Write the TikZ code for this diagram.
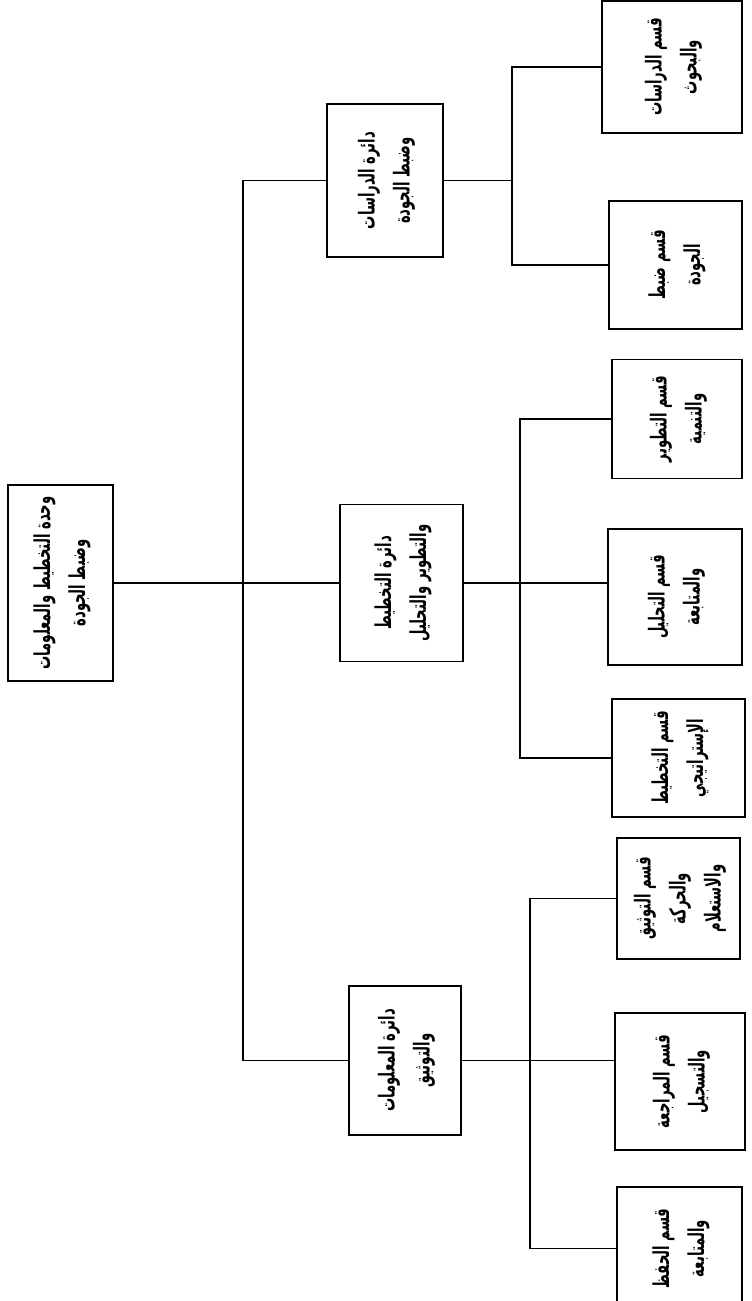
\documentclass[tikz,border=0pt]{standalone}
\usepackage{fontspec}
\usepackage{graphicx}
\TeXXeTstate=1
\newfontfamily\arabicfont[Script=Arabic,FakeStretch=0.6]{DejaVu Sans}
\newcommand{\artxt}[1]{\beginR #1\endR}
\newcommand{\vlabel}[1]{\rotatebox{90}{\arabicfont\bfseries\fontsize{11}{17.5}\selectfont
  \begin{tabular}{@{}c@{}}#1\end{tabular}}}
\tikzset{
  unit/.style={draw, line width=0.8pt, inner sep=0pt, fill=white},
  boxsize/.style 2 args={minimum width=#1*0.5pt, minimum height=#2*0.5pt},
  link/.style={line width=0.8pt},
}

\begin{document}
\begin{tikzpicture}[x=0.5pt,y=-0.5pt]
    \useasboundingbox (0,0) rectangle (751,1301);

    % top unit
    \node[unit, boxsize={105}{196}] (wahda) at (60.5,583)
        {\vlabel{\artxt{وحدة التخطيط والمعلومات}\\ \artxt{وضبط الجودة}}};

    % departments
    \node[unit, boxsize={116}{153}] (daDirasat) at (385,180.5)
        {\vlabel{\artxt{دائرة الدراسات}\\ \artxt{وضبط الجودة}}};
    \node[unit, boxsize={123}{157}] (daTakhtit) at (401.5,583)
        {\vlabel{\artxt{دائرة التخطيط}\\ \artxt{والتطوير والتحليل}}};
    \node[unit, boxsize={112}{149}] (daMaalumat) at (405,1060.5)
        {\vlabel{\artxt{دائرة المعلومات}\\ \artxt{والتوثيق}}};

    % sections
    \node[unit, boxsize={140}{132}] (qBuhuth) at (672,67)
        {\vlabel{\artxt{قسم الدراسات}\\ \artxt{والبحوث}}};
    \node[unit, boxsize={133}{128}] (qJawda) at (675.5,265)
        {\vlabel{\artxt{قسم ضبط}\\ \artxt{الجودة}}};
    \node[unit, boxsize={130}{119}] (qTatwir) at (677,419)
        {\vlabel{\artxt{قسم التطوير}\\ \artxt{والتنمية}}};
    \node[unit, boxsize={134}{136}] (qTahlil) at (675,597)
        {\vlabel{\artxt{قسم التحليل}\\ \artxt{والمتابعة}}};
    \node[unit, boxsize={133}{118}] (qIstratiji) at (678.5,758)
        {\vlabel{\artxt{قسم التخطيط}\\ \artxt{الإستراتيجي}}};
    \node[unit, boxsize={123}{121}] (qTawthiq) at (678.5,898.5)
        {\vlabel{\artxt{قسم التوثيق}\\ \artxt{والحركة}\\ \artxt{والاستعلام}}};
    \node[unit, boxsize={130}{137}] (qMuraja) at (680,1081.5)
        {\vlabel{\artxt{قسم المراجعة}\\ \artxt{والتسجيل}}};
    \node[unit, boxsize={125}{123}] (qHifz) at (679.5,1248.5)
        {\vlabel{\artxt{قسم الحفظ}\\ \artxt{والمتابعة}}};

    % junctions
    \coordinate (jRoot) at (243,583);
    \coordinate (jDirasat) at (512,180.5);
    \coordinate (jTakhtit) at (520,583);
    \coordinate (jMaalumat) at (530,1060.5);

    % connectors
    \draw[link] (wahda.east) -- (jRoot);
    \draw[link] (daDirasat.west) -| (jRoot) |- (daMaalumat.west);
    \draw[link] (jRoot) -- (daTakhtit.west);

    \draw[link] (daDirasat.east) -- (jDirasat);
    \draw[link] (qBuhuth.west) -| (jDirasat) |- (qJawda.west);

    \draw[link] (daTakhtit.east) -- (qTahlil.west |- daTakhtit.east);
    \draw[link] (qTatwir.west) -| (jTakhtit) |- (qIstratiji.west);

    \draw[link] (daMaalumat.east) -- (qMuraja.west |- daMaalumat.east);
    \draw[link] (qTawthiq.west) -| (jMaalumat) |- (qHifz.west);
\end{tikzpicture}
\end{document}
